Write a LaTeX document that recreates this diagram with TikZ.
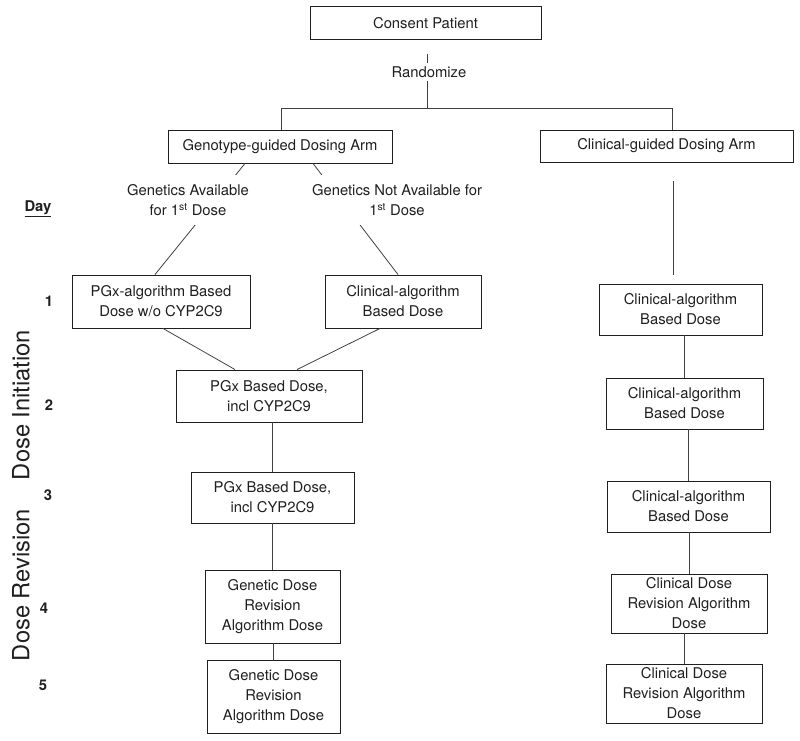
\documentclass[tikz,border=0pt]{standalone}
\usepackage{fontspec}
\setmainfont{TeX Gyre Heros}
\usetikzlibrary{positioning}
\usetikzlibrary{calc}
\colorlet{linecol}{black!75}
\colorlet{inkcol}{black!88}

\begin{document}
\begin{tikzpicture}[x=1pt, y=-1pt,
        box/.style={draw=inkcol, line width=0.9pt, inner sep=0pt, align=center, text=inkcol,
            font=\fontsize{14.8}{20}\selectfont},
        lbl/.style={fill=white, inner xsep=2pt, inner ysep=3pt, align=center, text=inkcol,
            font=\fontsize{14.8}{20}\selectfont},
        day/.style={text=inkcol, font=\fontsize{14.8}{20}\selectfont\bfseries},
        phase/.style={rotate=90, text=inkcol, font=\fontsize{23.7}{28}\selectfont},
        link/.style={draw=linecol, line width=0.8pt}]
            \useasboundingbox (0,0) rectangle (800,741);

            % top of the trial
            \node [box, minimum width=231pt, minimum height=33pt] (consent) at (425.5,23) {Consent Patient};
            \node [box, minimum width=224pt, minimum height=33pt] (genoarm) at (280,146.5) {Genotype-guided Dosing Arm};
            \node [box, minimum width=253pt, minimum height=32pt] (clinarm) at (666.5,146) {Clinical-guided Dosing Arm};

            % genotype arm
            \node [box, minimum width=178pt, minimum height=53pt] (pgx1) at (161,301.5)
                {PGx-algorithm Based\\Dose w/o CYP2C9};
            \node [box, minimum width=156pt, minimum height=53pt] (clin1) at (403,301.5)
                {Clinical-algorithm\\Based Dose};
            \node [box, minimum width=186pt, minimum height=52pt] (pgx2) at (269,396)
                {PGx Based Dose,\\incl CYP2C9};
            \node [box, minimum width=163pt, minimum height=51pt] (pgx3) at (272.5,497.5)
                {PGx Based Dose,\\incl CYP2C9};
            \node [box, minimum width=135pt, minimum height=73pt] (gen4) at (272.5,606.5)
                {Genetic Dose\\Revision\\Algorithm Dose};
            \node [box, minimum width=133pt, minimum height=73pt] (gen5) at (273.5,696.5)
                {Genetic Dose\\Revision\\Algorithm Dose};

            % clinical arm
            \node [box, minimum width=163pt, minimum height=51pt] (r1) at (680.5,309.5)
                {Clinical-algorithm\\Based Dose};
            \node [box, minimum width=157pt, minimum height=51pt] (r2) at (684.5,403.5)
                {Clinical-algorithm\\Based Dose};
            \node [box, minimum width=163pt, minimum height=51pt] (r3) at (688.5,506.5)
                {Clinical-algorithm\\Based Dose};
            \node [box, minimum width=156pt, minimum height=59pt] (r4) at (689,603.5)
                {Clinical Dose\\Revision Algorithm\\Dose};
            \node [box, minimum width=156pt, minimum height=59pt] (r5) at (684,693.5)
                {Clinical Dose\\Revision Algorithm\\Dose};

            % connectors
            \coordinate (split) at (427,108);
            \coordinate (ltop) at (281,108);
            \coordinate (rtop) at (672,108);
            \draw [link, shorten <=14pt] (consent.south -| split) -- (split);
            \draw [link] (genoarm.north -| ltop) -- (ltop) -- (rtop) -- (clinarm.north -| rtop);
            \draw [link] ($(genoarm.south)+(-35,0)$) -- ($(pgx1.north)+(-6,0)$);
            \draw [link] ($(genoarm.south)+(33,0)$) -- ($(clin1.north)+(-5,0)$);
            \draw [link] ($(pgx1.south)+(2,0)$) -- ($(pgx2.north)+(-34,0)$);
            \draw [link] ($(clin1.south)+(-23,0)$) -- ($(pgx2.north)+(28,0)$);
            \foreach \a/\b in {pgx2/pgx3, pgx3/gen4, gen4/gen5}
                \draw [link] (\b.north) -- (\b.north |- \a.south);
            \draw [link] ($(clinarm.south)+(6.5,19)$) -- ($(r1.north)+(-7.5,-9)$);
            \foreach \a/\b in {r1/r2, r2/r3, r3/r4, r4/r5}
                \draw [link] (\b.north) -- (\b.north |- \a.south);

            % labels on the connectors
            \node [lbl] (rand) at (429,72) {Randomize};
            \node [lbl, inner ysep=9pt] (avail) at (188,200) {Genetics Available\\for 1\textsuperscript{st} Dose};
            \node [lbl, inner ysep=9pt] (notavail) at (397,200) {Genetics Not Available for\\1\textsuperscript{st} Dose};

            % day column
            \node [day] (dayhead) at (38,209) {\underline{Day}};
            \node [day] (day1) at (49,301) {1};
            \node [day] (day2) at (49,405) {2};
            \node [day] (day3) at (48,495) {3};
            \node [day] (day4) at (44,608) {4};
            \node [day] (day5) at (43,685) {5};
            \node [phase] (init) at (21,405) {Dose Initiation};
            \node [phase] (revis) at (21,585) {Dose Revision};
        \end{tikzpicture}
\end{document}
